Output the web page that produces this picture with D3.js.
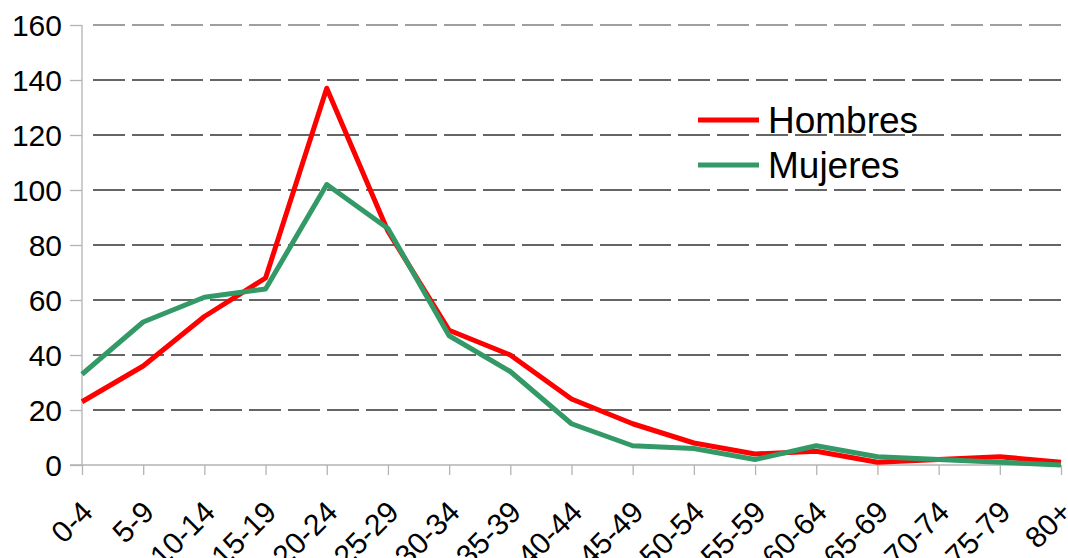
<!DOCTYPE html>
<html><head><meta charset="utf-8">
<script src="https://cdn.jsdelivr.net/npm/d3@7"></script>
<style>
html,body{margin:0;padding:0;background:#fff;}
svg{display:block;font-family:"Liberation Sans",Arial,sans-serif;}
</style></head>
<body><svg id="c" width="1068" height="558"></svg>
<script>
const categories = ["0-4","5-9","10-14","15-19","20-24","25-29","30-34","35-39","40-44","45-49","50-54","55-59","60-64","65-69","70-74","75-79","80+"];
const hombres = [23,36,54,68,137,85,49,40,24,15,8,4,5,1,2,3,1];
const mujeres = [33,52,61,64,102,86,47,34,15,7,6,2,7,3,2,1,0];
const yTicks = [0,20,40,60,80,100,120,140,160];
const seriesNames = ["Hombres","Mujeres"];
const seriesColors = ["#ff0000","#339966"];

const svg = d3.select("#c");
const x0 = 82, x1 = 1061, yTop = 25, yBot = 465;
const x = d3.scalePoint().domain(categories).range([x0, x1]);
const y = d3.scaleLinear().domain([0,160]).range([yBot, yTop]);

// gridlines
svg.append("g").selectAll("line").data(yTicks.filter(d=>d>0)).join("line")
  .attr("x1", x0+11).attr("x2", x1+1)
  .attr("y1", d=>y(d)).attr("y2", d=>y(d))
  .attr("stroke", d=> d===160 ? "#808080" : "#333")
  .attr("stroke-width", 1.3)
  .attr("stroke-dasharray", "32,7");

// y axis
const yAxis = d3.axisLeft(y).tickValues(yTicks).tickSize(12).tickPadding(8);
const gy = svg.append("g").attr("transform", `translate(${x0},0)`).call(yAxis);
gy.attr("font-size",null).attr("font-family",null);
gy.select(".domain").attr("stroke","#b3b3b3").attr("stroke-width",1.3).attr("d", `M0,${yTop}V${yBot}`);
gy.selectAll(".tick line").attr("stroke","#b3b3b3").attr("stroke-width",1.3);
gy.selectAll(".tick text").style("font-size","30px").attr("fill","#000").attr("dy","0.35em");

// x axis
const xAxis = d3.axisBottom(x).tickSize(10).tickPadding(0);
const gx = svg.append("g").attr("transform", `translate(0,${yBot})`).call(xAxis);
gx.attr("font-size",null).attr("font-family",null);
gx.select(".domain").attr("stroke","#b3b3b3").attr("stroke-width",1.3).attr("d", `M${x0-12},0H${x1}`);
gx.selectAll(".tick line").attr("stroke","#b3b3b3").attr("stroke-width",1.3);
gx.selectAll(".tick text")
  .style("font-size","30px").attr("fill","#000")
  .attr("text-anchor","end").attr("dy",0).attr("y",0)
  .attr("transform","translate(12,49) rotate(-45)");

// lines
const line = d3.line().x((d,i)=>x(categories[i])).y(d=>y(d)).curve(d3.curveLinear);
[hombres, mujeres].forEach((s,k)=>{
  svg.append("path").datum(s).attr("d", line)
    .attr("fill","none").attr("stroke", seriesColors[k]).attr("stroke-width",5)
    .attr("stroke-linejoin","round");
});

// legend
const lg = svg.append("g");
seriesNames.forEach((n,k)=>{
  const yy = 120 + k*45;
  lg.append("rect").attr("x",690).attr("y",yy-4).attr("width",75).attr("height",8).attr("fill","#fff");
  lg.append("line").attr("x1",698).attr("x2",759).attr("y1",yy).attr("y2",yy)
    .attr("stroke",seriesColors[k]).attr("stroke-width",5);
  lg.append("text").attr("x",768).attr("y",yy+13).style("font-size","37px").attr("fill","#000").text(n);
});
</script></body></html>
